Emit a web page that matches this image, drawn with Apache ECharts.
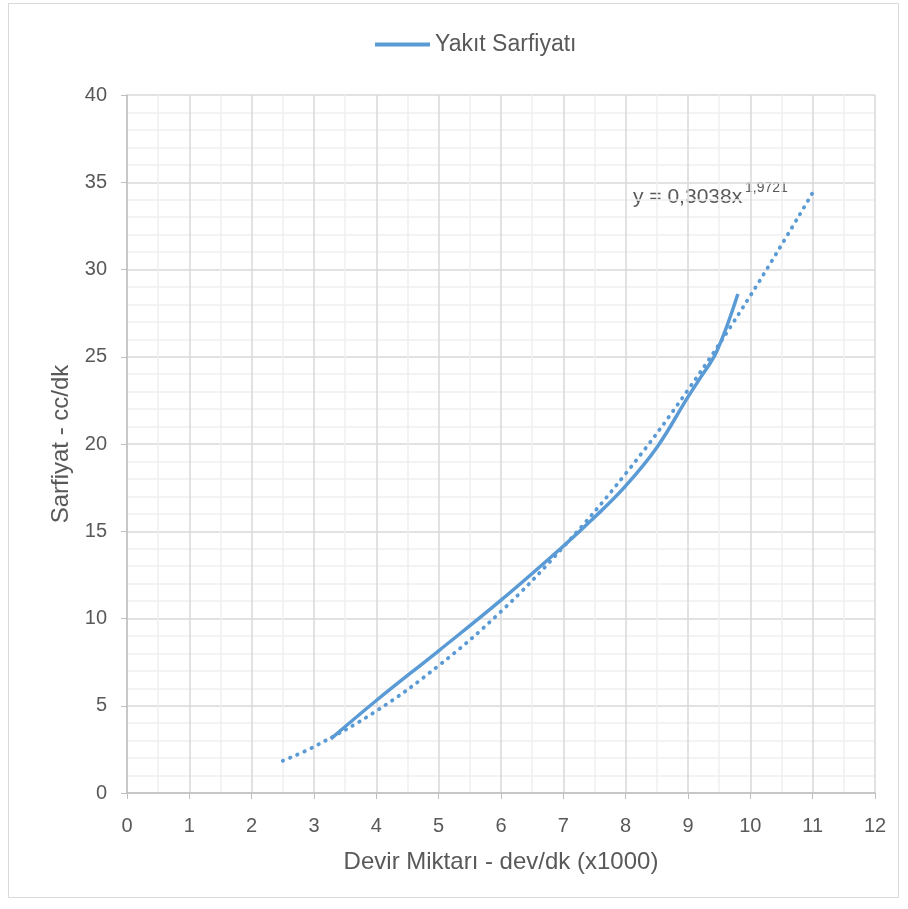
<!DOCTYPE html>
<html><head><meta charset="utf-8">
<script src="https://cdn.jsdelivr.net/npm/echarts@6/dist/echarts.min.js"></script>
<style>html,body{margin:0;padding:0;background:#fff}#c{width:908px;height:909px}</style>
</head><body><div id="c"></div>
<script>
// Measured series (x in thousand rpm, y in cc/min)
const rpm   = [3.27, 4.0, 5.0, 6.0, 7.0, 7.5, 8.0, 8.5, 9.0, 9.2, 9.46, 9.8];
const fuel  = [3.1, 5.3, 8.15, 11.05, 14.15, 15.8, 17.6, 19.8, 22.7, 23.8, 25.3, 28.6];
// Trendline
const trendX = [2.5, 3, 4, 5, 6, 7, 8, 9, 10, 11];
const trendY = [1.85, 2.65, 4.7, 7.3, 10.4, 14.1, 18.3, 23.1, 28.5, 34.4];
const seriesName = 'Yakıt Sarfiyatı';
const xTitle = 'Devir Miktarı - dev/dk (x1000)';
const yTitle = 'Sarfiyat - cc/dk';
const eqMain = 'y = 0,3038x';
const eqExp = '1,9721';

const FONT = "'Liberation Sans', Arial, sans-serif";
const blue = '#5B9BD5';
const chart = echarts.init(document.getElementById('c'));
chart.setOption({
  animation: false,
  textStyle: {fontFamily: FONT},
  legend: {
    top: 28, left: 370, itemWidth: 55, itemHeight: 4, itemGap: 5,
    data: [{name: seriesName, icon: 'rect'}],
    textStyle: {fontSize: 23, color: '#595959', fontFamily: FONT, padding: [0, 0, 0, 0]}
  },
  grid: {left: 127, right: 33, top: 95, bottom: 116},
  xAxis: {
    type: 'value', min: 0, max: 12, interval: 1,
    name: xTitle, nameLocation: 'middle', nameGap: 57,
    nameTextStyle: {fontSize: 24, color: '#595959'},
    axisLine: {show: true, onZero: false, lineStyle: {color: '#bfbfbf', width: 1.5}},
    axisTick: {show: true, length: 6, lineStyle: {color: '#bfbfbf'}},
    axisLabel: {fontSize: 20, color: '#595959', margin: 23},
    splitLine: {show: true, lineStyle: {color: '#d9d9d9', width: 1.5}},
    minorTick: {show: false, splitNumber: 2},
    minorSplitLine: {show: true, lineStyle: {color: '#efefef', width: 1.5}}
  },
  yAxis: {
    type: 'value', min: 0, max: 40, interval: 5,
    name: yTitle, nameLocation: 'middle', nameGap: 53,
    nameTextStyle: {fontSize: 24, color: '#595959'},
    axisLine: {show: true, onZero: false, lineStyle: {color: '#bfbfbf', width: 1.5}},
    axisTick: {show: true, length: 6, lineStyle: {color: '#bfbfbf'}},
    axisLabel: {fontSize: 20, color: '#595959', margin: 20},
    splitLine: {show: true, lineStyle: {color: '#d9d9d9', width: 1.5}},
    minorTick: {show: false, splitNumber: 5},
    minorSplitLine: {show: true, lineStyle: {color: '#efefef', width: 1.5}}
  },
  series: [
    {
      name: 'trend', type: 'line', smooth: 0.4, symbol: 'none', z: 2,
      data: trendX.map((x, i) => [x, trendY[i]]),
      lineStyle: {color: blue, width: 3.8, type: [0.5, 7.3], cap: 'round'}
    },
    {
      name: seriesName, type: 'line', smooth: 0.4, symbol: 'none', z: 3,
      data: rpm.map((x, i) => [x, fuel[i]]),
      itemStyle: {color: blue},
      lineStyle: {color: blue, width: 3.5}
    }
  ],
  graphic: [
    {type: 'rect', shape: {x: 8.5, y: 3.5, width: 890, height: 894}, style: {fill: 'none', stroke: '#d9d9d9', lineWidth: 1}, silent: true},
    {type: 'text', left: 633, top: 187, style: {text: eqMain, fontSize: 21, fill: '#595959', fontFamily: FONT}},
    {type: 'text', left: 745, top: 181, style: {text: eqExp, fontSize: 14, fill: '#595959', fontFamily: FONT}}
  ]
});
</script></body></html>
